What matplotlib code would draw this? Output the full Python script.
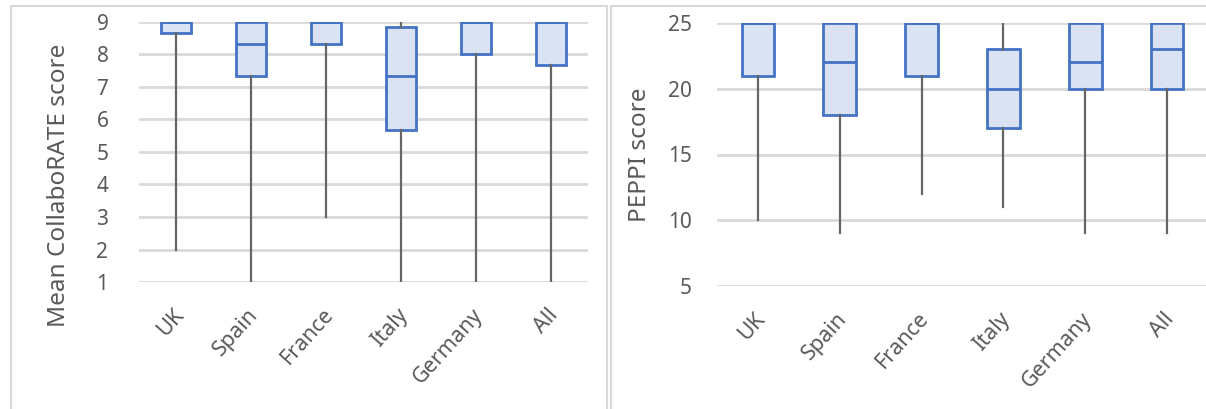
import matplotlib.pyplot as plt
from matplotlib.patches import Rectangle
import matplotlib.transforms as mtransforms

plt.rcParams['font.family'] = ['Noto Sans', 'DejaVu Sans']

countries = ["UK", "Spain", "France", "Italy", "Germany", "All"]

# CollaboRATE (mean score) box statistics per country
collab_min = [2, 1, 3, 1, 1, 1]
collab_q1 = [8.67, 7.33, 8.33, 5.67, 8.0, 7.67]
collab_med = [9, 8.33, 9, 7.33, 9, 9]
collab_q3 = [9, 9, 9, 8.85, 9, 9]
collab_max = [9, 9, 9, 9, 9, 9]

# PEPPI score box statistics per country
peppi_min = [10, 9, 12, 11, 9, 9]
peppi_q1 = [21, 18, 21, 17, 20, 20]
peppi_med = [25, 22, 25, 20, 22, 23]
peppi_q3 = [25, 25, 25, 23, 25, 25]
peppi_max = [25, 25, 25, 25, 25, 25]

TXT = '#595959'
BOX_EDGE = '#4472C4'
BOX_FILL = '#DAE3F3'
GRID = '#D9D9D9'

W, H = 1206, 409
fig = plt.figure(figsize=(W / 100, H / 100), dpi=100)

# chart-area frames
fig.patches.append(Rectangle((11 / W, -0.05), 596 / W, 1.05 - 6 / H, transform=fig.transFigure,
                             fill=False, ec=GRID, lw=1.5))
fig.patches.append(Rectangle((611 / W, -0.05), 0.5, 1.05 - 6 / H, transform=fig.transFigure,
                             fill=False, ec=GRID, lw=1.5))


def stats(lo, q1, med, q3, hi):
    return [dict(whislo=a, q1=b, med=c, q3=d, whishi=e, label=n)
            for a, b, c, d, e, n in zip(lo, q1, med, q3, hi, countries)]


def draw(ax, st, ylim, yticks, ylabel, ypad):
    ax.bxp(st, positions=range(len(st)), widths=0.4, showcaps=False, showfliers=False,
           patch_artist=True,
           boxprops=dict(facecolor=BOX_FILL, edgecolor=BOX_EDGE, linewidth=2),
           medianprops=dict(color=BOX_EDGE, linewidth=2),
           whiskerprops=dict(color='#666666', linewidth=1.6))
    ax.set_xlim(-0.5, len(st) - 0.5)
    ax.set_ylim(*ylim)
    ax.set_yticks(yticks)
    ax.yaxis.grid(True, color=GRID, linewidth=2)
    ax.set_axisbelow(True)
    for s in ax.spines.values():
        s.set_visible(False)
    ax.tick_params(length=0, colors=TXT, labelsize=15)
    ax.tick_params(axis='y', pad=ypad)
    ax.set_xticks(range(len(st)))
    ax.set_xticklabels(countries, rotation=48, ha='right', va='top',
                       rotation_mode='anchor', color=TXT, fontsize=15.5)
    ax.tick_params(axis='x', pad=16)
    shift = mtransforms.ScaledTranslation(-3 / 72, 0, fig.dpi_scale_trans)
    for lab in ax.get_xticklabels():
        lab.set_transform(lab.get_transform() + shift)
    ax.set_ylabel(ylabel, color=TXT, fontsize=17.5)


ax1 = fig.add_axes([139 / W, 1 - 282 / H, 449 / W, 260 / H])
draw(ax1, stats(collab_min, collab_q1, collab_med, collab_q3, collab_max),
     (1, 9), range(1, 10), "Mean CollaboRATE score", 22)
ax1.yaxis.set_label_coords(-0.152, 0.37)

ax2 = fig.add_axes([717 / W, 1 - 286 / H, 491 / W, 263 / H])
draw(ax2, stats(peppi_min, peppi_q1, peppi_med, peppi_q3, peppi_max),
     (5, 25), range(5, 30, 5), "PEPPI score", 18)
ax2.yaxis.set_label_coords(-0.132, 0.5)

fig.savefig("out.png", dpi=100)
